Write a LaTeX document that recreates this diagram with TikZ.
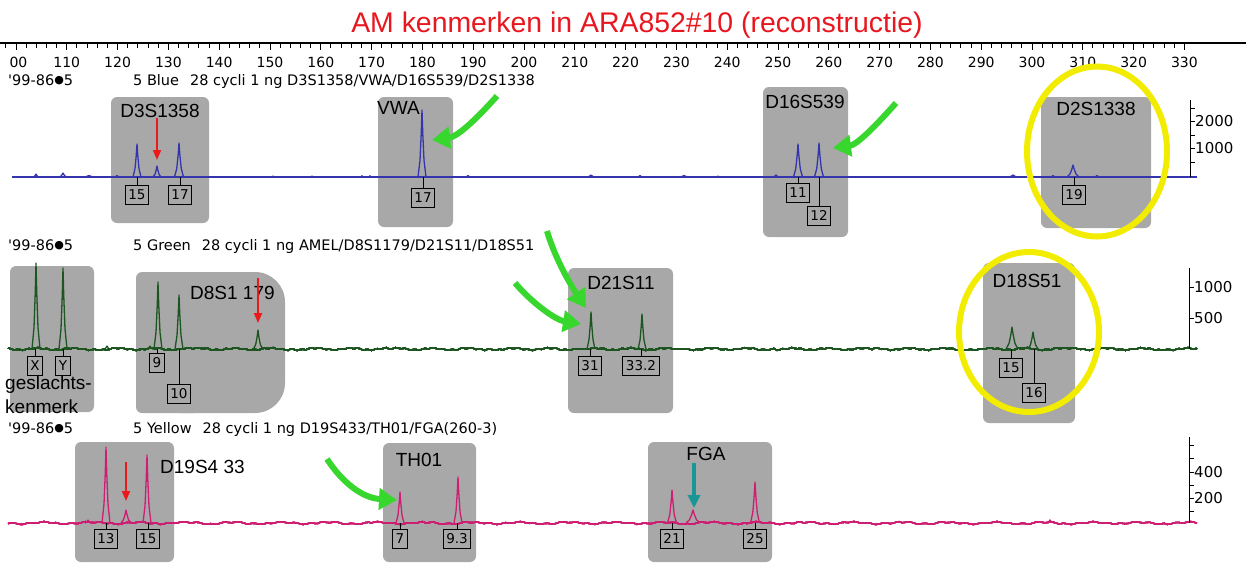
\documentclass[tikz,border=0pt]{standalone}
\usepackage{fontspec}
\setmainfont{Liberation Sans}
\newfontfamily\dvs{DejaVu Sans}
\usetikzlibrary{arrows.meta}
\definecolor{titlered}{RGB}{232,22,30}
\definecolor{boxgray}{RGB}{168,168,168}
\definecolor{tblue}{RGB}{52,52,172}
\definecolor{tgreen}{RGB}{28,85,32}
\definecolor{tpink}{RGB}{205,30,115}
\definecolor{arrgreen}{RGB}{55,215,45}
\definecolor{ylw}{RGB}{242,236,0}
\definecolor{tealarr}{RGB}{25,150,150}
\definecolor{redarr}{RGB}{235,25,25}
\tikzset{
 graybox/.style={fill=boxgray, rounded corners=6pt},
 allele/.style={draw=black, line width=1pt, font=\dvs\fontsize{13.5}{13.5}\selectfont, inner xsep=3pt, inner ysep=0pt, minimum height=19.5pt, text height=9.8pt, text depth=0pt},
 locus/.style={font=\fontsize{19}{19}\selectfont, inner sep=0pt},
 hdr/.style={font=\dvs\fontsize{14.5}{15}\selectfont, anchor=base west, inner sep=0pt},
 rlab/.style={font=\dvs\fontsize{14}{14}\selectfont, inner sep=0pt},
 ylab/.style={font=\dvs\fontsize{15}{15}\selectfont, anchor=west, inner sep=0pt},
 garrow/.style={draw=arrgreen, line width=6pt, -{Triangle[length=18pt,width=21pt]}},
 rarrow/.style={draw=redarr, line width=1.8pt, -{Triangle[length=10pt,width=8pt]}},
 tarrow/.style={draw=tealarr, line width=3.2pt, -{Triangle[length=13pt,width=12pt]}},
 ring/.style={draw=ylw, line width=6pt},
 trace/.style={line width=1.3pt, line join=round},
 tick/.style={line width=1pt},
}
\newcommand\tpk[5]{% color, base, centre, height, half-width
 \draw[trace,#1] ({#3-#5},#2) -- ({#3-0.5*#5},{#2-0.25*#4}) -- ({#3-0.2*#5},{#2-0.64*#4}) -- (#3,{#2-#4}) -- ({#3+0.2*#5},{#2-0.64*#4}) -- ({#3+0.5*#5},{#2-0.25*#4}) -- ({#3+#5},#2);}
\newcommand\mkallele[5]{% name, x, box y, baseline y, text
 \coordinate (#1p) at (#2,#4);
 \node[allele] (#1) at (#2,#3) {#5};
 \draw[tick] (#1p) -- (#1.north);}
\newcommand\smdot{\raisebox{2pt}{\fontsize{11}{11}\selectfont ●}}
\begin{document}
\begin{tikzpicture}[x=1pt,y=-1pt]
\useasboundingbox (0,0) rectangle (1246,563);
% title
\node[font=\fontsize{28.4}{29}\selectfont, text=titlered, anchor=base, inner sep=0pt] (title) at (637,32) {AM kenmerken in ARA852\#10 (reconstructie)};
% ruler
\draw[line width=1.3pt] (0,43) -- (1246,43);
\foreach \v in {98,100,...,330} \draw[tick] ({16+(\v-100)*5.08},43) -- ++(0,4.5);
\foreach \v in {100,110,...,330} \draw[tick] ({16+(\v-100)*5.08},43) -- ++(0,7);
\node[rlab] (r100) at (18.5,62) {00};
\foreach \v in {110,120,...,330} \node[rlab] (r\v) at ({16+(\v-100)*5.08},62) {\v};
% headers
\node[hdr] (hb0) at (8,85) {'99-86\smdot 5};
\node[hdr] (hb1) at (133,85) {5 Blue\hspace{11pt}28 cycli 1 ng D3S1358/VWA/D16S539/D2S1338};
\node[hdr] (hg0) at (8,250) {'99-86\smdot 5};
\node[hdr] (hg1) at (133,250) {5 Green\hspace{11pt}28 cycli 1 ng AMEL/D8S1179/D21S11/D18S51};
\node[hdr] (hy0) at (8,433) {'99-86\smdot 5};
\node[hdr] (hy1) at (133,433) {5 Yellow\hspace{11pt}28 cycli 1 ng D19S433/TH01/FGA(260-3)};
% gray boxes
\fill[graybox] (111,97) rectangle (209,223);
\fill[graybox] (378,97) rectangle (453,227);
\fill[graybox] (763,87) rectangle (848,237);
\fill[graybox] (1041,97) rectangle (1151,228);
\fill[graybox] (10,266) rectangle (94,412);
\fill[graybox] (136,272) rectangle (200,413);
\fill[boxgray, rounded corners=30pt] (150,272) rectangle (285,413);
\fill[graybox] (568,268) rectangle (673,413);
\fill[graybox] (983,263) rectangle (1075,423);
\fill[graybox] (75,442) rectangle (174,562);
\fill[graybox] (383,443) rectangle (476,562);
\fill[graybox] (648,442) rectangle (772,562);
% blue trace
\draw[trace,tblue] (12,177) -- (1197,177);
\foreach \c/\h/\w in {36/3/3, 63/4/4, 89/1.5/6, 117/1.5/3, 137/33/4, 157/11/4, 179/34/4.5, 273/1/2, 312/1/2, 362/1.2/2, 370/1.2/2, 422/67/4, 468/1.5/3, 591/2/4, 640/1.5/3, 684/1.5/5, 718/1/2, 776/2/3, 798/33/4.5, 819/34/4.5, 1013/2/5, 1053/1.5/3, 1073/12/6, 1097/1.5/3}
  \tpk{tblue}{177}{\c}{\h}{\w}
% green trace
\draw[trace,tgreen] plot[domain=8:1197, samples=400] (\x,{349+0.9*sin(mod(\x,97)*131)+0.6*sin(mod(\x,61)*83)});
\foreach \c/\h/\w in {36/86/4, 63/81/4, 107/3/3, 150/3/3, 158/67/4, 179/54/4, 258/19/4.5, 591/37/4, 642/35/4, 1012/22/6, 1033/17/5}
  \tpk{tgreen}{349}{\c}{\h}{\w}
% pink trace
\draw[trace,tpink] plot[domain=8:1197, samples=400] (\x,{523+0.9*sin(mod(\x,89)*113)+0.6*sin(mod(\x,53)*97)});
\foreach \c/\h/\w in {88/3/3, 106/76/4, 126/13/5, 147/68/4, 400/31/4, 458/46/4, 672/33/4.5, 693/13/7, 755/41/4.5, 1050/3/4}
  \tpk{tpink}{523}{\c}{\h}{\w}
% y axes
\draw[tick] (1190,100) -- (1190,177);
\foreach \t in {108,121,135,148,162} \draw[tick] (1190,\t) -- (1195,\t);
\node[ylab] (y2000) at (1195,121) {2000};
\node[ylab] (y1000) at (1195,148) {1000};
\draw[tick] (1189,268) -- (1189,349);
\foreach \t in {287,318} \draw[tick] (1189,\t) -- (1194,\t);
\node[ylab] (g1000) at (1194,287) {1000};
\node[ylab] (g500) at (1194,318) {500};
\draw[tick] (1189,437) -- (1189,523);
\foreach \t in {445,458,472,485,498,511} \draw[tick] (1189,\t) -- (1194,\t);
\node[ylab] (p400) at (1194,472) {400};
\node[ylab] (p200) at (1194,498) {200};
% alleles
\mkallele{aB15}{137}{195}{177}{15}
\mkallele{aB17}{180}{195}{177}{17}
\mkallele{aV17}{423}{198}{177}{17}
\mkallele{aD11}{798}{193}{177}{11}
\mkallele{aD12}{819}{216}{177}{12}
\mkallele{aD19}{1074}{195}{177}{19}
\mkallele{aX}{35}{366}{349}{X}
\mkallele{aY}{63}{366}{349}{Y}
\mkallele{a9}{157}{363}{349}{9}
\mkallele{a10}{179}{394}{349}{10}
\mkallele{a31}{590}{366}{349}{31}
\mkallele{a332}{641}{366}{349}{33.2}
\mkallele{aE15}{1011}{368}{349}{15}
\mkallele{aE16}{1034}{393}{349}{16}
\mkallele{aP13}{106}{539}{523}{13}
\mkallele{aP15}{148}{539}{523}{15}
\mkallele{aT7}{400}{539}{523}{7}
\mkallele{aT93}{457}{539}{523}{9.3}
\mkallele{aF21}{672}{539}{523}{21}
\mkallele{aF25}{755}{539}{523}{25}
% locus labels
\node[locus] (lD3) at (160,111) {D3S1358};
\node[locus, anchor=west] (lVWA) at (377,108) {VWA};
\node[locus] (lD16) at (805,102) {D16S539};
\node[locus] (lD2) at (1096,109) {D2S1338};
\node[locus, anchor=west] (lD8) at (190,293) {D8S1 179};
\node[locus] (lD21) at (621,283) {D21S11};
\node[locus] (lD18) at (1027,281) {D18S51};
\node[locus, anchor=west] (lD19) at (160,467) {D19S4 33};
\node[locus] (lTH) at (419,460) {TH01};
\node[locus] (lFGA) at (706,454) {FGA};
\node[locus, anchor=west] (gesl) at (5,385) {geslachts-};
\node[locus, anchor=west] (kenm) at (5,407) {kenmerk};
% arrows
\coordinate (vwaT) at (497,96); \coordinate (vwaH) at (432,140);
\draw[garrow] (vwaT) .. controls (472,124) and (456,137) .. (vwaH);
\coordinate (d16T) at (896,103); \coordinate (d16H) at (833,148);
\draw[garrow] (d16T) .. controls (872,130) and (856,145) .. (d16H);
\coordinate (d21aT) at (547,231); \coordinate (d21aH) at (586,308);
\draw[garrow] (d21aT) .. controls (556,262) and (574,290) .. (d21aH);
\coordinate (d21bT) at (515,283); \coordinate (d21bH) at (581,324);
\draw[garrow] (d21bT) .. controls (533,304) and (556,320) .. (d21bH);
\coordinate (thT) at (327,459); \coordinate (thH) at (397,500);
\draw[garrow] (thT) .. controls (342,482) and (362,498) .. (thH);
\coordinate (r1T) at (157,118); \coordinate (r1H) at (157,160);
\draw[rarrow] (r1T) -- (r1H);
\coordinate (r2T) at (258,278); \coordinate (r2H) at (258,323);
\draw[rarrow] (r2T) -- (r2H);
\coordinate (r3T) at (126,462); \coordinate (r3H) at (126,501);
\draw[rarrow] (r3T) -- (r3H);
\coordinate (tT) at (694,463); \coordinate (tH) at (694,508);
\draw[tarrow] (tT) -- (tH);
% yellow rings
\draw[ring] (1097,151.5) ellipse [x radius=70pt, y radius=85pt];
\draw[ring] (1029,332) ellipse [x radius=70pt, y radius=80pt];
\end{tikzpicture}
\end{document}
